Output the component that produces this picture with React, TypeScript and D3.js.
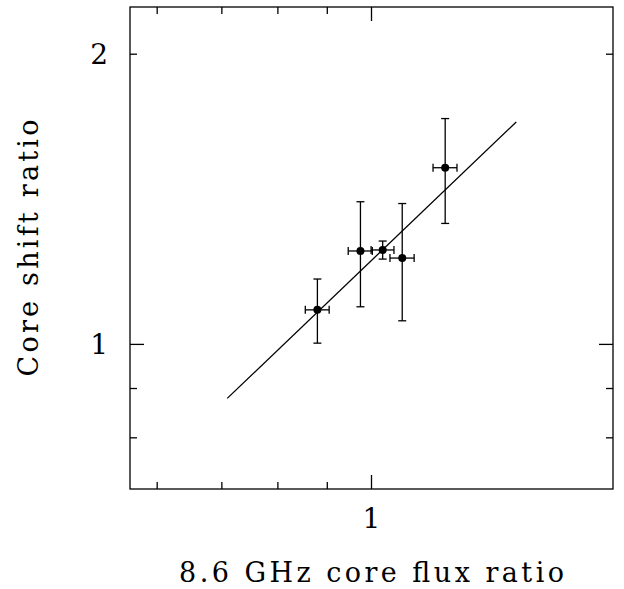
import React, { useEffect, useRef } from "react";
import * as d3 from "d3";

// 8.6 GHz core flux ratio (x) and core shift ratio (y), with errors
const fluxRatio = [0.879, 0.974, 1.027, 1.076, 1.192];
const fluxErr = [0.025, 0.028, 0.028, 0.031, 0.034];
const shiftRatio = [1.086, 1.25, 1.253, 1.229, 1.525];
const shiftErr = [0.083, 0.156, 0.027, 0.171, 0.19];

// fitted line end points
const fitX = [0.709, 1.412];
const fitY = [0.879, 1.701];

const xMajor = [1];
const xMinor = [0.6, 0.7, 0.8, 0.9];
const xLabels = ["1"];
const yMajor = [1];
const yMinor = [0.8, 0.9, 2];
const yLabelVals = [1, 2];
const yLabels = ["1", "2"];

export default function App() {
    const ref = useRef<SVGSVGElement>(null);

    useEffect(() => {
        const width = 624, height = 589;
        const left = 130, right = 613, top = 7, bottom = 489;
        const font = "'DejaVu Serif', serif";

        const svg = d3.select(ref.current);
        svg.selectAll("*").remove();
        svg.attr("width", width).attr("height", height);

        const x = d3.scaleLog()
            .domain([Math.pow(10, -0.25), Math.pow(10, 0.25)])
            .range([left, right]);
        const y = d3.scaleLog()
            .domain([Math.pow(10, -0.15), Math.pow(10, 0.35)])
            .range([bottom, top]);

        const g = svg.append("g").attr("stroke", "#000").attr("fill", "none").attr("stroke-width", 1.3);

        // frame
        g.append("rect")
            .attr("x", left).attr("y", top)
            .attr("width", right - left).attr("height", bottom - top);

        // ticks on all four sides, pointing inward
        const xt = [...xMajor.map(v => ({ v, len: 14 })), ...xMinor.map(v => ({ v, len: 7 }))];
        xt.forEach(t => {
            g.append("line").attr("x1", x(t.v)).attr("x2", x(t.v)).attr("y1", bottom).attr("y2", bottom - t.len);
            g.append("line").attr("x1", x(t.v)).attr("x2", x(t.v)).attr("y1", top).attr("y2", top + t.len);
        });
        const yt = [...yMajor.map(v => ({ v, len: 14 })), ...yMinor.map(v => ({ v, len: 7 }))];
        yt.forEach(t => {
            g.append("line").attr("y1", y(t.v)).attr("y2", y(t.v)).attr("x1", left).attr("x2", left + t.len);
            g.append("line").attr("y1", y(t.v)).attr("y2", y(t.v)).attr("x1", right).attr("x2", right - t.len);
        });

        // tick labels
        svg.selectAll("text.xl")
            .data(xMajor)
            .enter()
            .append("text")
            .attr("x", d => x(d))
            .attr("y", 528)
            .attr("text-anchor", "middle")
            .attr("font-family", font)
            .attr("font-size", 28)
            .text((d, i) => xLabels[i]);

        svg.selectAll("text.yl")
            .data(yLabelVals)
            .enter()
            .append("text")
            .attr("x", 108)
            .attr("y", d => y(d) + 10)
            .attr("text-anchor", "end")
            .attr("font-family", font)
            .attr("font-size", 28)
            .text((d, i) => yLabels[i]);

        // axis titles
        svg.append("text")
            .attr("x", (left + right) / 2)
            .attr("y", 582)
            .attr("text-anchor", "middle")
            .attr("font-family", font)
            .attr("font-size", 27)
            .attr("textLength", 385)
            .attr("lengthAdjust", "spacing")
            .text("8.6 GHz core flux ratio");

        svg.append("text")
            .attr("transform", `translate(38,${(top + bottom) / 2}) rotate(-90)`)
            .attr("text-anchor", "middle")
            .attr("font-family", font)
            .attr("font-size", 27)
            .attr("textLength", 257)
            .attr("lengthAdjust", "spacing")
            .text("Core shift ratio");

        // fit line
        g.append("line")
            .attr("x1", x(fitX[0])).attr("y1", y(fitY[0]))
            .attr("x2", x(fitX[1])).attr("y2", y(fitY[1]));

        // error bars
        const cap = 4;
        fluxRatio.forEach((fx, i) => {
            const cx = x(fx), cy = y(shiftRatio[i]);
            const x0 = x(fx - fluxErr[i]), x1 = x(fx + fluxErr[i]);
            const y0 = y(shiftRatio[i] - shiftErr[i]), y1 = y(shiftRatio[i] + shiftErr[i]);
            g.append("line").attr("x1", x0).attr("x2", x1).attr("y1", cy).attr("y2", cy);
            g.append("line").attr("x1", x0).attr("x2", x0).attr("y1", cy - cap).attr("y2", cy + cap);
            g.append("line").attr("x1", x1).attr("x2", x1).attr("y1", cy - cap).attr("y2", cy + cap);
            g.append("line").attr("x1", cx).attr("x2", cx).attr("y1", y0).attr("y2", y1);
            g.append("line").attr("x1", cx - cap).attr("x2", cx + cap).attr("y1", y0).attr("y2", y0);
            g.append("line").attr("x1", cx - cap).attr("x2", cx + cap).attr("y1", y1).attr("y2", y1);
        });

        svg.selectAll("circle.pt")
            .data(fluxRatio)
            .enter()
            .append("circle")
            .attr("cx", d => x(d))
            .attr("cy", (d, i) => y(shiftRatio[i]))
            .attr("r", 4)
            .attr("fill", "#000");
    }, []);

    return (
        <svg ref={ref} style={{ position: "absolute", left: 0, top: 0, background: "#fff" }}></svg>
    );
}
